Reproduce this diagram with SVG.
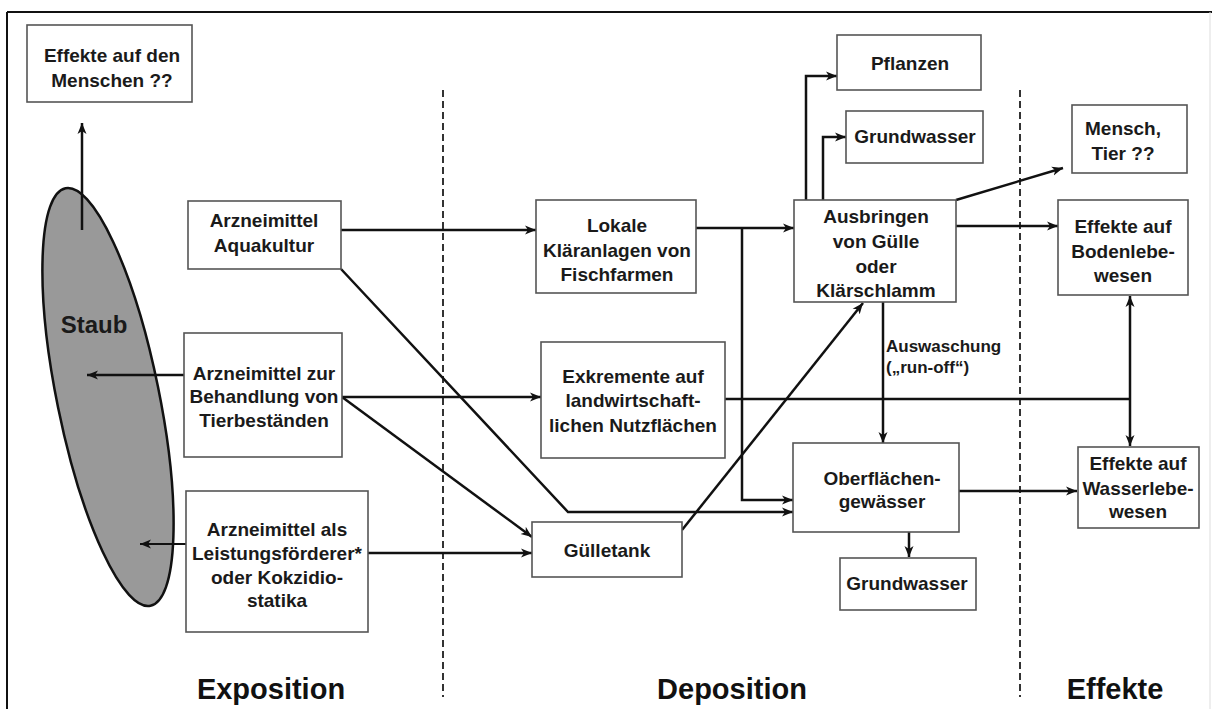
<svg xmlns="http://www.w3.org/2000/svg" width="1212" height="709" viewBox="0 0 1212 709">
<style>
.box{fill:#fff;stroke:#555;stroke-width:1.6}
.t{font-family:"Liberation Sans",Arial,sans-serif;font-weight:bold;font-size:19px;fill:#1a1a1a;text-anchor:middle}
.c{fill:none;stroke:#111;stroke-width:2.5}
.d{stroke:#333;stroke-width:2;stroke-dasharray:7,4;fill:none}
.h{font-family:"Liberation Sans",Arial,sans-serif;font-weight:bold;font-size:29px;fill:#111;text-anchor:middle}
</style>
<defs>
<marker id="a" markerUnits="userSpaceOnUse" markerWidth="12" markerHeight="10" refX="11" refY="5" orient="auto">
<path d="M0,0.5 L11,5 L0,9.5 L3,5 z" fill="#111"/>
</marker>
</defs>
<rect width="1212" height="709" fill="#fff"/>
<g id="frame">
<line x1="7" y1="12" x2="1212" y2="12" stroke="#111" stroke-width="2"/>
<line x1="7" y1="12" x2="7" y2="709" stroke="#111" stroke-width="2"/>
<line x1="1210" y1="12" x2="1210" y2="709" stroke="#ddd" stroke-width="1"/>
<line class="d" x1="443" y1="90" x2="443" y2="697"/>
<line class="d" x1="1020" y1="90" x2="1020" y2="697"/>
</g>
<g id="staub">
<ellipse cx="108" cy="397" rx="51" ry="213" transform="rotate(-11.5 108 397)" fill="#999" stroke="#111" stroke-width="2.5"/>
<text x="94" y="333" class="t" style="font-size:24px">Staub</text>
</g>
<g id="connectors">
<polyline class="c" points="82,230 82,123" marker-end="url(#a)"/>
<polyline class="c" points="184,375 87,375" marker-end="url(#a)"/>
<polyline class="c" points="186,544 140,544" marker-end="url(#a)" style="stroke-width:2"/>
<polyline class="c" points="341,230 536,230" marker-end="url(#a)"/>
<polyline class="c" points="341,269 568,512 793,512" marker-end="url(#a)"/>
<polyline class="c" points="342,397 541,397" marker-end="url(#a)"/>
<polyline class="c" points="342,397 532,537" marker-end="url(#a)"/>
<polyline class="c" points="368,553 532,553" marker-end="url(#a)"/>
<polyline class="c" points="696,228 794,228" marker-end="url(#a)"/>
<polyline class="c" points="742,228 742,500 793,500" marker-end="url(#a)"/>
<polyline class="c" points="682,530 863,303" marker-end="url(#a)"/>
<polyline class="c" points="725,399 1130,399"/>
<polyline class="c" points="1130,399 1130,296" marker-end="url(#a)"/>
<polyline class="c" points="1130,399 1130,446" marker-end="url(#a)"/>
<polyline class="c" points="806,200 806,76 837,76" marker-end="url(#a)"/>
<polyline class="c" points="823,200 823,137 846,137" marker-end="url(#a)"/>
<polyline class="c" points="956,200 1063,168" marker-end="url(#a)"/>
<polyline class="c" points="956,226 1058,226" marker-end="url(#a)"/>
<polyline class="c" points="883,302 883,443" marker-end="url(#a)"/>
<polyline class="c" points="959,491 1077,491" marker-end="url(#a)"/>
<polyline class="c" points="909,532 909,557" marker-end="url(#a)"/>
<text x="886" y="352" class="t" style="font-size:17px;text-anchor:start">Auswaschung</text>
<text x="886" y="373" class="t" style="font-size:17px;text-anchor:start">(„run-off“)</text>
</g>
<g id="menschen">
<rect class="box" x="27" y="25" width="165" height="77"/>
<text class="t" x="112" y="62">Effekte auf den</text>
<text class="t" x="112" y="87">Menschen ??</text>
</g>
<g id="aquakultur">
<rect class="box" x="188" y="201" width="153" height="68"/>
<text class="t" x="264" y="227">Arzneimittel</text>
<text class="t" x="264" y="252">Aquakultur</text>
</g>
<g id="behandlung">
<rect class="box" x="184" y="333" width="158" height="124"/>
<text class="t" x="264" y="380">Arzneimittel zur</text>
<text class="t" x="264" y="403">Behandlung von</text>
<text class="t" x="264" y="427">Tierbeständen</text>
</g>
<g id="leistung">
<rect class="box" x="186" y="491" width="182" height="141"/>
<text class="t" x="277" y="536">Arzneimittel als</text>
<text class="t" x="277" y="560">Leistungsförderer*</text>
<text class="t" x="277" y="584">oder Kokzidio-</text>
<text class="t" x="277" y="607">statika</text>
</g>
<g id="lokale">
<rect class="box" x="536" y="200" width="160" height="93"/>
<text class="t" x="617" y="232">Lokale</text>
<text class="t" x="617" y="257">Kläranlagen von</text>
<text class="t" x="617" y="281">Fischfarmen</text>
</g>
<g id="exkremente">
<rect class="box" x="541" y="342" width="184" height="116"/>
<text class="t" x="633" y="383">Exkremente auf</text>
<text class="t" x="633" y="407">landwirtschaft-</text>
<text class="t" x="633" y="432">lichen Nutzflächen</text>
</g>
<g id="guelletank">
<rect class="box" x="532" y="522" width="150" height="55"/>
<text class="t" x="607" y="557">Gülletank</text>
</g>
<g id="ausbringen">
<rect class="box" x="794" y="200" width="162" height="102"/>
<text class="t" x="876" y="223">Ausbringen</text>
<text class="t" x="876" y="248">von Gülle</text>
<text class="t" x="876" y="273">oder</text>
<text class="t" x="876" y="297">Klärschlamm</text>
</g>
<g id="pflanzen">
<rect class="box" x="837" y="35" width="144" height="55"/>
<text class="t" x="910" y="70">Pflanzen</text>
</g>
<g id="grundwasser1">
<rect class="box" x="846" y="111" width="137" height="52"/>
<text class="t" x="915" y="143">Grundwasser</text>
</g>
<g id="oberflaechen">
<rect class="box" x="793" y="443" width="166" height="89"/>
<text class="t" x="882" y="485">Oberflächen-</text>
<text class="t" x="882" y="508">gewässer</text>
</g>
<g id="grundwasser2">
<rect class="box" x="840" y="558" width="136" height="52"/>
<text class="t" x="907" y="590">Grundwasser</text>
</g>
<g id="mensch">
<rect class="box" x="1072" y="105" width="115" height="68"/>
<text class="t" x="1123" y="135">Mensch,</text>
<text class="t" x="1123" y="160">Tier ??</text>
</g>
<g id="boden">
<rect class="box" x="1058" y="200" width="130" height="95"/>
<text class="t" x="1123" y="233">Effekte auf</text>
<text class="t" x="1123" y="258">Bodenlebe-</text>
<text class="t" x="1123" y="282">wesen</text>
</g>
<g id="wasser">
<rect class="box" x="1078" y="447" width="121" height="81"/>
<text class="t" x="1138" y="470">Effekte auf</text>
<text class="t" x="1138" y="495">Wasserlebe-</text>
<text class="t" x="1138" y="518">wesen</text>
</g>
<g id="labels">
<text class="h" x="271" y="699">Exposition</text>
<text class="h" x="732" y="699">Deposition</text>
<text class="h" x="1115" y="699">Effekte</text>
</g>
</svg>
